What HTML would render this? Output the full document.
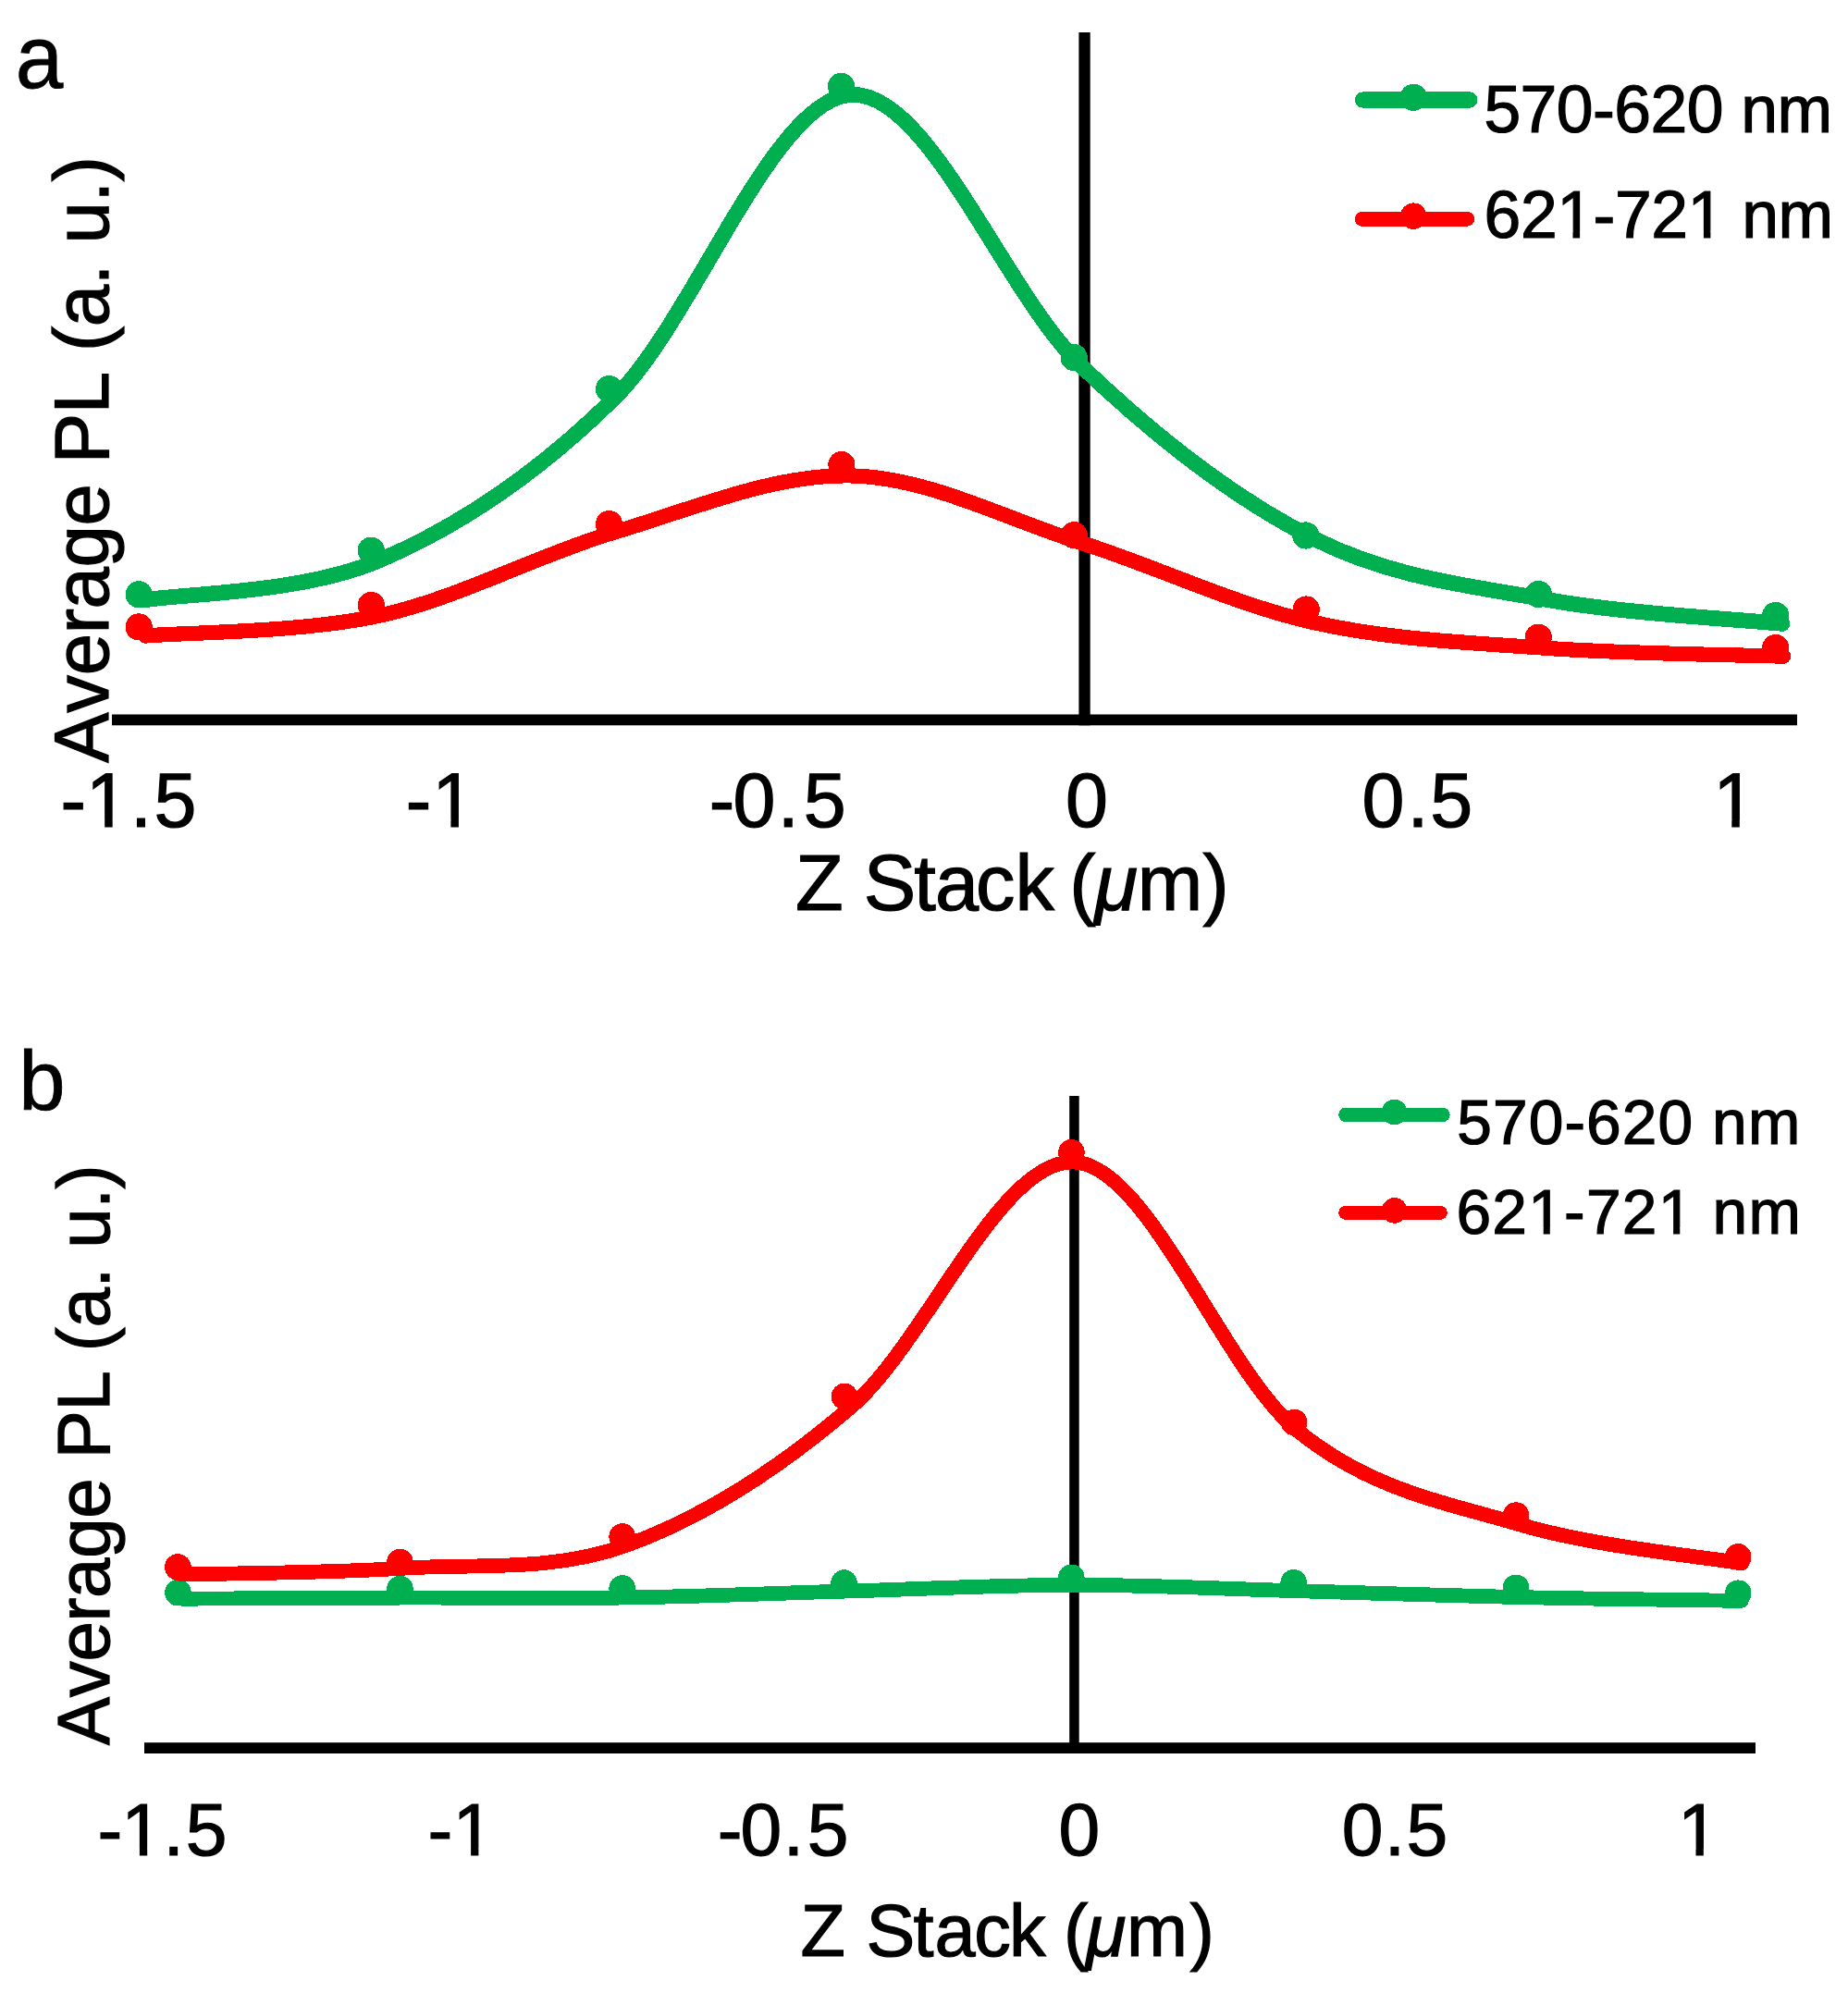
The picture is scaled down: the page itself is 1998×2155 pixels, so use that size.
<!DOCTYPE html>
<html lang="en"><head><meta charset="utf-8"><title>Average PL vs Z Stack</title>
<style>
html,body{margin:0;padding:0;background:#fff;}
body{width:1998px;height:2155px;overflow:hidden;}
svg{display:block;}
path,circle{shape-rendering:crispEdges;}
text{font-family:"Liberation Sans",sans-serif;fill:#000;white-space:pre;stroke:#000;stroke-width:1.2px;stroke-linejoin:miter;}
.ns{stroke:none;}
.s1{stroke-width:0.8px;}
.i{font-style:italic;}
</style></head><body>
<svg width="1998" height="2155" viewBox="0 0 1998 2155">
<rect width="1998" height="2155" fill="#fff"/>
<g>
<rect x="121" y="772.5" width="1822" height="11.8" fill="#000"/>
<rect x="1166.4" y="35" width="12.3" height="749.3" fill="#000"/>
<path d="M155 649C197.7 641.7 326.4 642 411.4 605.4C496.4 568.8 580.5 513.2 665.2 429.4C749.9 345.6 835.5 108 919.5 102.4C1003.5 96.8 1085.3 315.6 1169 395.7C1252.7 475.8 1337.6 540.7 1421.4 582.8C1505.2 624.9 1587.7 633 1671.9 648.3C1756.2 663.6 1884.4 670 1926.9 674.4" fill="none" stroke="#00b050" stroke-width="16.8" stroke-linecap="round" stroke-linejoin="round"/><circle cx="150.2" cy="642.8" r="14.6" fill="#00b050"/><circle cx="401.3" cy="595.2" r="14.6" fill="#00b050"/><circle cx="658.5" cy="420.6" r="14.6" fill="#00b050"/><circle cx="909.5" cy="93.3" r="14.6" fill="#00b050"/><circle cx="1161.2" cy="386.6" r="14.6" fill="#00b050"/><circle cx="1411.7" cy="579" r="14.6" fill="#00b050"/><circle cx="1663.3" cy="642.5" r="14.6" fill="#00b050"/><circle cx="1919.8" cy="665.5" r="14.6" fill="#00b050"/>
<path d="M157.1 687.5C199.5 683.8 326.9 684.1 411.5 665.4C496.1 646.7 579.9 600.6 664.6 575.4C749.3 550.2 836.1 512.6 919.9 514.4C1003.7 516.2 1084.3 559.9 1167.3 586.3C1250.3 612.7 1334.3 653.5 1418.1 672.6C1501.8 691.7 1584.8 694.5 1669.8 700.7C1754.8 706.9 1885 708.2 1928.1 709.7" fill="none" stroke="#ff0000" stroke-width="16.2" stroke-linecap="round" stroke-linejoin="round"/><circle cx="150.2" cy="677.9" r="14.6" fill="#ff0000"/><circle cx="401.3" cy="654.5" r="14.6" fill="#ff0000"/><circle cx="658.5" cy="566.7" r="14.6" fill="#ff0000"/><circle cx="909.9" cy="502.6" r="14.6" fill="#ff0000"/><circle cx="1161.2" cy="578.7" r="14.6" fill="#ff0000"/><circle cx="1412.3" cy="659" r="14.6" fill="#ff0000"/><circle cx="1663.3" cy="689.2" r="14.6" fill="#ff0000"/><circle cx="1919.8" cy="700.5" r="14.6" fill="#ff0000"/>
<path d="M1473.5 108H1588.9" stroke="#00b050" stroke-width="17.3" stroke-linecap="round" fill="none"/>
<circle cx="1528.2" cy="105.3" r="14.6" fill="#00b050"/>
<path d="M1472.6 236.9H1586.2" stroke="#ff0000" stroke-width="15.7" stroke-linecap="round" fill="none"/>
<circle cx="1528.2" cy="233.6" r="14.2" fill="#ff0000"/>
<g transform="translate(19.5,95.8) scale(0.955,1)"><text x="-3" y="-0.5" font-size="97" class="s1">a</text></g>
<g transform="translate(116.9,825.2) rotate(-90) scale(1,1.03)"><text x="0.4 54.5 94.9 139.9 166.7 211.6 256.6 301.6 323.9 377.9 422.9 445.2 472 517 539.3 561.6 606.6 628.9" y="0" font-size="81.5">Average PL (a. u.)</text></g>
<text x="65.5 93.1 140.9 166.6" y="893.9" font-size="82.6">-1.5</text><rect x="97.7" y="886.5" width="15.5" height="9" fill="#fff"/><rect x="121.7" y="886.5" width="14.8" height="9" fill="#fff"/>
<text x="438.7 467.2" y="893.9" font-size="82.6">-1</text><rect x="471.9" y="886.5" width="15.5" height="9" fill="#fff"/><rect x="495.9" y="886.5" width="14.8" height="9" fill="#fff"/>
<text x="766.7 792.5 840.8 868.7" y="893.9" font-size="82.6">-0.5</text>
<text x="1151.9" y="893.9" font-size="82.6">0</text>
<text x="1472.5 1521.6 1546.2" y="893.9" font-size="82.6">0.5</text>
<text x="1852.2" y="893.9" font-size="82.6">1</text><rect x="1856.8" y="886.5" width="15.5" height="9" fill="#fff"/><rect x="1880.8" y="886.5" width="14.8" height="9" fill="#fff"/>
<text x="859.9 911.6 933.7 988.3 1010.9 1054.9 1097.4 1139.7 1156.2" y="984.4" font-size="84.7">Z Stack (</text>
<text x="1183.4" y="984.4" font-size="84.7" class="i">μ</text>
<text x="1229.8 1300.6" y="984.4" font-size="84.7">m)</text>
<text x="1604.4 1643.6 1682.8 1722 1745.3 1784.5 1823.7 1862.9 1882.2 1921.4" y="142.5" font-size="71.5">570-620 nm</text>
<text x="1604.6 1643.9 1683.2 1722.5 1745.9 1785.2 1824.5 1863.8 1883.2 1922.6" y="256.7" font-size="71.5">621-721 nm</text><rect x="1687" y="250.2" width="13.5" height="8.1" fill="#fff"/><rect x="1708.1" y="250.2" width="13" height="8.1" fill="#fff"/><rect x="1828.4" y="250.2" width="13.5" height="8.1" fill="#fff"/><rect x="1849.4" y="250.2" width="13" height="8.1" fill="#fff"/>
</g>
<g>
<rect x="156" y="1884.2" width="1742" height="11.8" fill="#000"/>
<rect x="1156.2" y="1185" width="10.5" height="711" fill="#000"/>
<path d="M196.2 1728.7C236.2 1728.5 356.3 1727.8 436.4 1727.6C516.5 1727.4 596.6 1728.7 676.6 1727.5C756.6 1726.3 835.5 1722.8 916.4 1720.5C997.3 1718.2 1081.2 1713.8 1162.2 1713.8C1243.2 1713.8 1322.5 1718 1402.3 1720.2C1482.1 1722.4 1561.2 1725.3 1641.3 1727.1C1721.4 1728.9 1842.5 1730.3 1882.8 1730.9" fill="none" stroke="#00b050" stroke-width="15.8" stroke-linecap="round" stroke-linejoin="round"/><circle cx="192.4" cy="1722.1" r="14.3" fill="#00b050"/><circle cx="432.4" cy="1718.1" r="14.3" fill="#00b050"/><circle cx="672.7" cy="1717.5" r="14.3" fill="#00b050"/><circle cx="912.5" cy="1711.6" r="14.3" fill="#00b050"/><circle cx="1158.3" cy="1705.8" r="14.3" fill="#00b050"/><circle cx="1398.7" cy="1711.3" r="14.3" fill="#00b050"/><circle cx="1639" cy="1716.9" r="14.3" fill="#00b050"/><circle cx="1879.2" cy="1722.7" r="14.3" fill="#00b050"/>
<path d="M196.2 1702.5C236.1 1701.4 355.7 1700.9 435.8 1695.7C515.9 1690.5 596 1700.1 676.7 1671.1C757.4 1642.1 839.1 1590.6 919.9 1521.5C1000.7 1452.4 1081.2 1252.3 1161.6 1256.5C1242 1260.7 1322.3 1481.3 1402.5 1546.6C1482.7 1611.9 1562.5 1624.3 1642.6 1648.3C1722.7 1672.3 1843 1683.4 1883.1 1690.4" fill="none" stroke="#ff0000" stroke-width="15.8" stroke-linecap="round" stroke-linejoin="round"/><circle cx="192.4" cy="1694.5" r="14.3" fill="#ff0000"/><circle cx="432.4" cy="1689.1" r="14.3" fill="#ff0000"/><circle cx="672.7" cy="1661.5" r="14.3" fill="#ff0000"/><circle cx="913" cy="1510" r="14.3" fill="#ff0000"/><circle cx="1158.4" cy="1246.2" r="14.3" fill="#ff0000"/><circle cx="1399.2" cy="1538" r="14.3" fill="#ff0000"/><circle cx="1639" cy="1638.6" r="14.3" fill="#ff0000"/><circle cx="1879.2" cy="1683.4" r="14.3" fill="#ff0000"/>
<path d="M1455 1205.4H1559.8" stroke="#00b050" stroke-width="15.6" stroke-linecap="round" fill="none"/>
<circle cx="1507.6" cy="1202.5" r="13.8" fill="#00b050"/>
<path d="M1454.7 1311.4H1557.3" stroke="#ff0000" stroke-width="15" stroke-linecap="round" fill="none"/>
<circle cx="1507.6" cy="1308.9" r="13.8" fill="#ff0000"/>
<text x="20.2" y="1200" font-size="90.5" class="s1">b</text>
<g transform="translate(118.3,1887.4) rotate(-90) scale(1,1.015)"><text x="0.4 52.1 90.8 133.9 159.5 202.6 245.6 288.7 310.1 361.8 404.8 426.2 451.8 494.9 516.2 537.6 580.6 602" y="0" font-size="78">Average PL (a. u.)</text></g>
<text x="105.6 131.3 176.5 200.8" y="2006" font-size="80.4">-1.5</text><rect x="135.8" y="1998.8" width="15.1" height="8.8" fill="#fff"/><rect x="159.2" y="1998.8" width="14.5" height="8.8" fill="#fff"/>
<text x="462.4 489.5" y="2006" font-size="80.4">-1</text><rect x="494" y="1998.8" width="15.1" height="8.8" fill="#fff"/><rect x="517.4" y="1998.8" width="14.5" height="8.8" fill="#fff"/>
<text x="775.8 800.5 846.7 872.8" y="2006" font-size="80.4">-0.5</text>
<text x="1144.5" y="2006" font-size="80.4">0</text>
<text x="1450.7 1496.8 1520.4" y="2006" font-size="80.4">0.5</text>
<text x="1813.9" y="2006" font-size="80.4">1</text><rect x="1818.4" y="1998.8" width="15.1" height="8.8" fill="#fff"/><rect x="1841.8" y="1998.8" width="14.5" height="8.8" fill="#fff"/>
<text x="865.5 913.9 936.4 987.6 1010.6 1053.2 1091.1 1130.7 1150" y="2115.1" font-size="79.2">Z Stack (</text>
<text x="1173.9" y="2115.1" font-size="79.2" class="i">μ</text>
<text x="1218 1286.5" y="2115.1" font-size="79.2">m)</text>
<text x="1575.2 1613.9 1652.7 1691.4 1715 1753.8 1792.5 1831.2 1851.1 1889.9" y="1236.6" font-size="67.7">570-620 nm</text>
<text x="1574.5 1613.3 1652.2 1691.1 1714.9 1753.8 1792.7 1831.5 1851.6 1890.5" y="1333.6" font-size="67.7">621-721 nm</text><rect x="1655.8" y="1327.3" width="12.9" height="7.9" fill="#fff"/><rect x="1675.8" y="1327.3" width="12.3" height="7.9" fill="#fff"/><rect x="1796.2" y="1327.3" width="12.9" height="7.9" fill="#fff"/><rect x="1816.3" y="1327.3" width="12.3" height="7.9" fill="#fff"/>
</g>
</svg></body></html>
